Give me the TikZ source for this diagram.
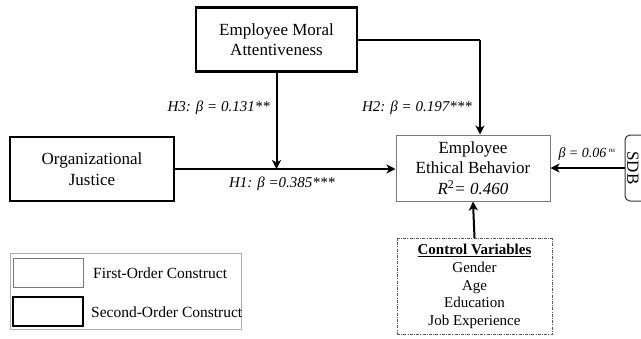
\documentclass[tikz,border=0pt]{standalone}
\usepackage{fontspec}
\setmainfont{Liberation Serif}
\usetikzlibrary{arrows.meta,positioning,calc}
\definecolor{boxgrey}{RGB}{120,120,120}
\definecolor{legendgrey}{RGB}{175,175,175}
\definecolor{ctrlgrey}{RGB}{90,90,90}
\tikzset{
  firstorder/.style={rectangle, draw=boxgrey, line width=1pt, fill=white, align=center,
                     inner sep=0pt, font=\fontsize{17}{20.5}\selectfont},
  secondorder/.style={firstorder, draw=black, line width=2.2pt},
  sdbbox/.style={rectangle, rounded corners=5pt, draw=black!80, line width=1pt,
                 minimum width=36pt, minimum height=66pt},
  ctrlbox/.style={rectangle, draw=ctrlgrey, line width=0.9pt, align=center, inner sep=0pt,
                  dash pattern=on 3pt off 1.2pt on 1pt off 1.2pt,
                  minimum width=155pt, minimum height=96pt, font=\fontsize{15}{17.8}\selectfont},
  legendbox/.style={rectangle, draw=legendgrey, line width=0.9pt, minimum width=231pt, minimum height=76pt},
  legfirst/.style={rectangle, draw=boxgrey, line width=1pt, minimum width=70pt, minimum height=29pt},
  legsecond/.style={legfirst, draw=black, line width=2.2pt},
  legtext/.style={anchor=west, inner sep=0pt, font=\fontsize{15.5}{17}\selectfont},
  coef/.style={inner sep=1pt, font=\fontsize{15}{17}\selectfont\itshape},
  link/.style={-{Stealth[length=9pt,width=9pt,inset=2.5pt]}, line width=2pt, black},
}

\begin{document}
\begin{tikzpicture}[x=1pt,y=-1pt]
  \useasboundingbox (0,0) rectangle (641,338);
  \node[secondorder, minimum width=161pt, minimum height=64pt] (ema) at (276.5,39.5)
       {Employee Moral\\Attentiveness};
  \node[secondorder, minimum width=164pt, minimum height=64pt] (oj) at (92,169)
       {Organizational\\Justice};
  \node[firstorder, minimum width=154pt, minimum height=66pt] (eeb) at (473,168)
       {Employee\\Ethical Behavior\\\textit{R}\textsuperscript{2}\textit{= 0.460}};
  \node[sdbbox] (sdb) at (643,168) {};
  \node[rotate=-90, inner sep=0pt, font=\fontsize{17}{19}\selectfont] (sdblabel) at (633,168) {SDB};
  \node[ctrlbox] (ctrl) at (474.5,286.5)
       {\textbf{\underline{Control Variables}}\\Gender\\Age\\Education\\Job Experience};

  \coordinate (h2turn) at (480,40);
  \coordinate (h3end) at (ema.south |- oj.east);
  \draw[link] (oj.east) -- (oj.east -| eeb.west);
  \draw[link] (ema.south) -- (h3end);
  \draw[line width=2pt] (ema.east |- h2turn) -- (h2turn);
  \draw[link] (h2turn) -- (h2turn |- eeb.north);
  \draw[link] (sdb.west) -- (eeb.east);
  \draw[link] (ctrl.north) -- (eeb.south);

  \node[coef, anchor=east] (h3) at (271,108) {H3: β = 0.131**};
  \node[coef, anchor=east] (h2) at (473,108) {H2: β = 0.197***};
  \node[coef] (h1) at (282,184) {H1: β =0.385***};
  \node[coef, font=\fontsize{14}{16}\selectfont\itshape] (sdbcoef) at (587,154)
       {β = 0.06\,\textsuperscript{\scriptsize ns}};

  \node[legendbox] (legend) at (125.5,291) {};
  \node[legfirst] (leg1) at (48,272.5) {};
  \node[legsecond] (leg2) at (48,311.5) {};
  \node[legtext] (leg1text) at (93,273) {First-Order Construct};
  \node[legtext] (leg2text) at (91,312) {Second-Order Construct};
\end{tikzpicture}
\end{document}
